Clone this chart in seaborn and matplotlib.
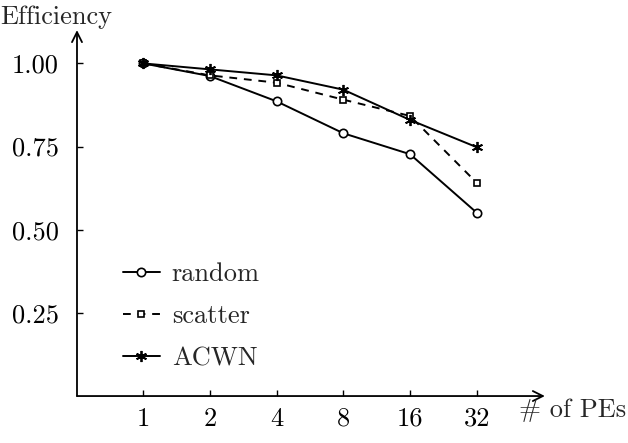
import numpy as np
import pandas as pd
import matplotlib
matplotlib.use('Agg')
import matplotlib.pyplot as plt
from matplotlib.ticker import FixedLocator, FixedFormatter, NullLocator
import seaborn as sns

pes = [1, 2, 4, 8, 16, 32]
random_eff = [1.00, 0.962, 0.886, 0.790, 0.727, 0.551]
scatter_eff = [1.00, 0.964, 0.942, 0.891, 0.842, 0.641]
acwn_eff = [1.00, 0.982, 0.964, 0.921, 0.830, 0.748]
yticks = [0.25, 0.50, 0.75, 1.00]

df = pd.DataFrame({'pes': pes * 3,
                   'eff': random_eff + scatter_eff + acwn_eff,
                   'scheme': ['random'] * 6 + ['scatter'] * 6 + ['ACWN'] * 6})

sns.set_style('white')
plt.rcParams['font.family'] = ['cmr10', 'DejaVu Serif']
plt.rcParams['axes.formatter.use_mathtext'] = True
plt.rcParams['mathtext.fontset'] = 'cm'

fs = 19
fig = plt.figure(figsize=(6.28, 4.43), dpi=100)
ax = fig.add_axes([0.1226, 0.106, 0.745, 0.826])

styles = {'random': dict(marker='o', ls='-', ms=6, mfc='white', mec='black', mew=1.2),
          'scatter': dict(marker='s', ls=(0, (4, 3.5)), ms=4.5, mfc='white', mec='black', mew=1.2),
          'ACWN': dict(marker=(6, 2, 0), ls='-', ms=8, mec='black', mew=1.3)}
for name in ['random', 'scatter', 'ACWN']:
    sub = df[df.scheme == name]
    sns.lineplot(data=sub, x='pes', y='eff', ax=ax, color='black', lw=1.4,
                 label=name, **styles[name])

ax.set_xscale('log', base=2)
ax.set_xlim(2 ** -0.99, 2 ** 6.02)
ax.set_ylim(0, 1.10)
ax.xaxis.set_major_locator(FixedLocator(pes))
ax.xaxis.set_major_formatter(FixedFormatter([str(p) for p in pes]))
ax.xaxis.set_minor_locator(NullLocator())
ax.set_yticks(yticks)
ax.set_yticklabels(['%.2f' % v for v in yticks])
ax.tick_params(axis='both', direction='in', length=4, width=1, labelsize=fs,
               left=True, bottom=True, colors='black')
ax.tick_params(axis='y', pad=13)
ax.tick_params(axis='x', pad=8)
for s in ['top', 'right', 'left', 'bottom']:
    ax.spines[s].set_visible(False)
ax.set_xlabel('')
ax.set_ylabel('')

# arrow axes
ax.annotate('', xy=(1.0, 0), xytext=(0, 0), xycoords='axes fraction',
            arrowprops=dict(arrowstyle='->', lw=1.3, color='black', mutation_scale=18,
                            shrinkA=0, shrinkB=0))
ax.annotate('', xy=(0, 1.0), xytext=(0, 0), xycoords='axes fraction',
            arrowprops=dict(arrowstyle='->', lw=1.3, color='black', mutation_scale=18,
                            shrinkA=0, shrinkB=0))

fig.text(0.0, 0.962, 'Efficiency', fontsize=fs, ha='left', va='center')
fig.text(0.997, 0.075, '# of PEs', fontsize=fs, ha='right', va='center')

ax.legend(loc='lower left', bbox_to_anchor=(0.098, 0.07), frameon=False,
          fontsize=fs, handlelength=1.4, handletextpad=0.45, labelspacing=0.7,
          numpoints=1, borderaxespad=0, borderpad=0)

fig.savefig('out.png', dpi=100)
